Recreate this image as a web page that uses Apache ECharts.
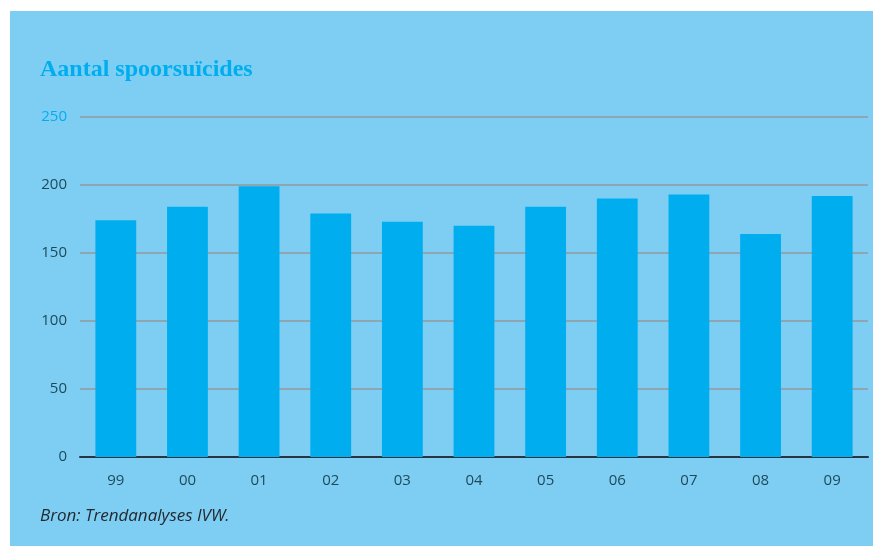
<!DOCTYPE html>
<html>
<head>
<meta charset="utf-8">
<script src="https://cdn.jsdelivr.net/npm/echarts@6/dist/echarts.min.js"></script>
<style>
  html, body { margin: 0; padding: 0; background: #ffffff; }
  #chart { position: absolute; left: 10px; top: 11px; width: 863px; height: 535px; background: #7ecef3; }
</style>
</head>
<body>
<div id="chart"></div>
<script>
const years = ['99', '00', '01', '02', '03', '04', '05', '06', '07', '08', '09']
const suicides = [174, 184, 199, 179, 173, 170, 184, 190, 193, 164, 192]
const yTicks = [0, 50, 100, 150, 200, 250]

const chart = echarts.init(document.getElementById('chart'))

const labelColor = '#1d4a5a'
const cyan = '#00aeef'

chart.setOption({
  animation: false,
  backgroundColor: 'transparent',
  title: [
    {
      text: 'Aantal spoorsuïcides',
      left: 30,
      top: 47,
      padding: 0,
      textStyle: {
        fontFamily: 'Liberation Serif',
        fontWeight: 'bold',
        fontSize: 24,
        color: cyan,
        lineHeight: 24,
      },
    },
    {
      text: 'Bron: Trendanalyses IVW.',
      left: 30,
      top: 497,
      padding: 0,
      textStyle: {
        fontFamily: 'Open Sans',
        fontStyle: 'italic',
        fontWeight: 'normal',
        fontSize: 17,
        color: '#222a30',
      },
    },
  ],
  grid: { left: 70, right: 5, top: 106, bottom: 89 },
  xAxis: {
    type: 'category',
    data: years,
    axisLine: { lineStyle: { color: '#263540', width: 2 } },
    axisTick: { show: false },
    axisLabel: { color: labelColor, fontFamily: 'Open Sans', fontSize: 15, margin: 16 },
  },
  yAxis: {
    type: 'value',
    min: yTicks[0],
    max: yTicks[yTicks.length - 1],
    interval: 50,
    axisLine: { show: false },
    axisTick: { show: false },
    axisLabel: {
      fontFamily: 'Open Sans',
      fontSize: 15,
      margin: 13,
      color: (v) => (Number(v) === 250 ? cyan : labelColor),
    },
    splitLine: { lineStyle: { color: '#8ea6b2', width: 2 } },
  },
  series: [
    {
      type: 'bar',
      data: suicides,
      barWidth: '57%',
      itemStyle: { color: cyan },
    },
  ],
})
</script>
</body>
</html>
